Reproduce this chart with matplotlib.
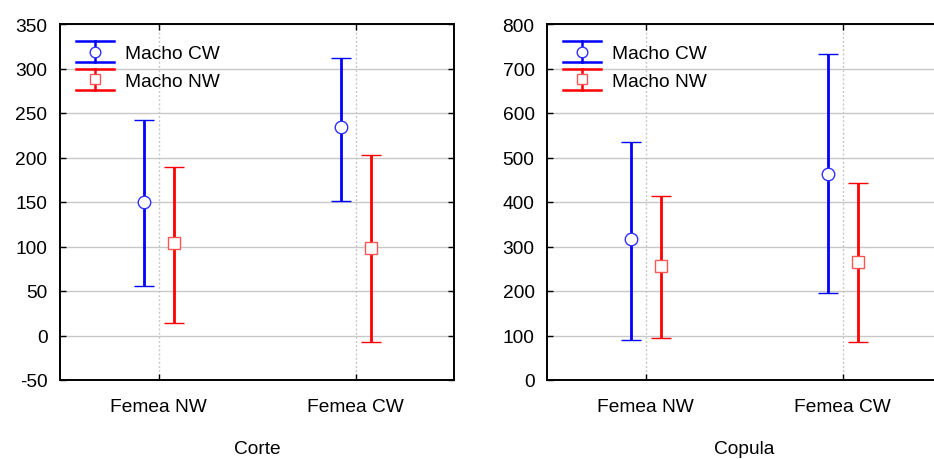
import matplotlib
matplotlib.use("Agg")
import matplotlib.pyplot as plt
import numpy as np
from matplotlib.lines import Line2D
from matplotlib.legend_handler import HandlerBase

plt.rcParams['font.family'] = ['Liberation Sans', 'DejaVu Sans']
plt.rcParams['axes.unicode_minus'] = False

categories = ["Femea NW", "Femea CW"]
series = ["Macho CW", "Macho NW"]

# Panel 1: Corte
corte_mean = {"Macho CW": [150.5, 234.0], "Macho NW": [103.6, 98.5]}
corte_low = {"Macho CW": [55.5, 151.5], "Macho NW": [14.0, -7.0]}
corte_high = {"Macho CW": [242.0, 312.0], "Macho NW": [189.0, 202.5]}

# Panel 2: Copula
copula_mean = {"Macho CW": [316.0, 463.0], "Macho NW": [257.0, 266.0]}
copula_low = {"Macho CW": [91.0, 195.0], "Macho NW": [93.5, 86.0]}
copula_high = {"Macho CW": [535.0, 733.0], "Macho NW": [413.0, 443.0]}

colors = {"Macho CW": "#0000FF", "Macho NW": "#FF0000"}
mec = {"Macho CW": "#3030FF", "Macho NW": "#FF5555"}
markers = {"Macho CW": "o", "Macho NW": "s"}
msize = {"Macho CW": 9, "Macho NW": 8}
offsets = {"Macho CW": -0.072, "Macho NW": 0.077}

FS = 13.8


class HandlerEB(HandlerBase):
    def __init__(self, color, mcolor, marker, ms):
        super().__init__()
        self.color = color
        self.mcolor = mcolor
        self.marker = marker
        self.ms = ms

    def create_artists(self, legend, orig_handle, xdescent, ydescent,
                       width, height, fontsize, trans):
        cx = width / 2 - xdescent
        cy = height / 2 - ydescent
        h = 7.6
        x0 = -xdescent
        x1 = width - xdescent
        arts = [
            Line2D([cx, cx], [cy - h, cy + h], color=self.color, lw=1.8),
            Line2D([x0, x1], [cy + h, cy + h], color=self.color, lw=1.8),
            Line2D([x0, x1], [cy - h, cy - h], color=self.color, lw=1.8),
            Line2D([cx], [cy], marker=self.marker, ms=self.ms * 0.85,
                   mfc='white', mec=self.mcolor, mew=1.0, linestyle='none'),
        ]
        for a in arts:
            a.set_transform(trans)
        return arts


fig = plt.figure(figsize=(9.34, 4.6), dpi=100)
W, H = 934, 460
ax1 = fig.add_axes([60 / W, (H - 381) / H, 394 / W, 356 / H])
ax2 = fig.add_axes([547 / W, (H - 381) / H, 394 / W, 356 / H])

panels = [
    (ax1, corte_mean, corte_low, corte_high, "Corte", (-50, 350), np.arange(-50, 351, 50)),
    (ax2, copula_mean, copula_low, copula_high, "Copula", (0, 800), np.arange(0, 801, 100)),
]

x = np.arange(len(categories))
for ax, mean, low, high, xlabel, ylim, yticks in panels:
    handles = []
    for s in series:
        m = np.array(mean[s])
        lo = np.array(low[s])
        hi = np.array(high[s])
        eb = ax.errorbar(x + offsets[s], m, yerr=[m - lo, hi - m], fmt=markers[s],
                         color=colors[s], ms=msize[s], mfc='white', mec=mec[s], mew=1.0,
                         elinewidth=2.0, capsize=7.5, capthick=2.0, zorder=3, label=s)
        handles.append(eb)
    ax.set_xlim(-0.5, 1.5)
    ax.set_ylim(*ylim)
    ax.set_yticks(yticks)
    ax.set_xticks(x)
    ax.set_xticklabels(categories)
    ax.set_xlabel(xlabel, fontsize=FS, labelpad=18)
    for yt in yticks:
        ax.axhline(yt, color='#c8c8c8', lw=1.0, zorder=0)
    for xv in x:
        ax.axvline(xv, color='#c8c8c8', lw=1.0, ls=(0, (1.5, 1.5)), zorder=0)
    ax.tick_params(direction='in', length=4, width=1, top=True, right=True,
                   labelsize=FS, color='black')
    ax.tick_params(axis='y', pad=9)
    ax.tick_params(axis='x', pad=13)
    for sp in ax.spines.values():
        sp.set_linewidth(1.4)
    hmap = {handles[i]: HandlerEB(colors[s], mec[s], markers[s], msize[s])
            for i, s in enumerate(series)}
    ax.legend(handles, series, loc='upper left', bbox_to_anchor=(-0.013, 1.0),
              frameon=False, fontsize=FS,
              handlelength=2.0, handletextpad=0.55, labelspacing=0.52,
              borderaxespad=0.6, borderpad=0.5, handler_map=hmap)

fig.savefig("out.png", dpi=100)
